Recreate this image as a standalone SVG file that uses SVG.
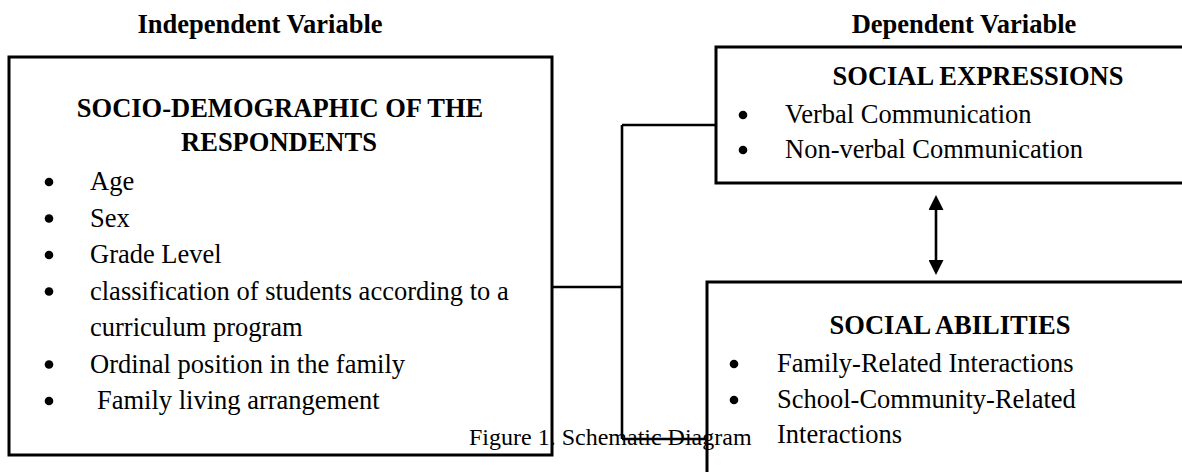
<svg xmlns="http://www.w3.org/2000/svg" width="1182" height="472" viewBox="0 0 1182 472">
  <style>
    text { font-family: "Liberation Serif", "Times New Roman", serif; fill: #000; }
    .h { font-size: 26.5px; font-weight: bold; text-anchor: middle; }
    .b { font-size: 26.5px; }
    .cap { font-size: 24px; }
    .dot { fill: #000; }
    .box { fill: #fff; stroke: #000; stroke-width: 3; }
    .con { fill: none; stroke: #000; stroke-width: 2.6; }
  </style>
  <defs>
    <marker id="ah" viewBox="0 0 15 15" markerUnits="userSpaceOnUse" markerWidth="15" markerHeight="15" refX="10" refY="7.5" orient="auto-start-reverse">
      <path d="M0,0 L15,7.5 L0,15 z" fill="#000"/>
    </marker>
  </defs>

  <rect width="1182" height="472" fill="#fff"/>

  <text class="h" x="260" y="33">Independent Variable</text>
  <text class="h" x="964" y="33">Dependent Variable</text>

  <g id="socio-demographic">
    <rect class="box" x="9" y="57" width="543" height="398"/>
    <text class="h" x="280" y="117">SOCIO-DEMOGRAPHIC OF THE</text>
    <text class="h" x="279" y="151">RESPONDENTS</text>
    <circle class="dot" cx="49" cy="182" r="4.3"/><text class="b" x="90" y="190">Age</text>
    <circle class="dot" cx="49" cy="218.5" r="4.3"/><text class="b" x="90" y="226.5">Sex</text>
    <circle class="dot" cx="49" cy="255" r="4.3"/><text class="b" x="90" y="263">Grade Level</text>
    <circle class="dot" cx="49" cy="291.5" r="4.3"/><text class="b" x="90" y="299.5">classification of students according to a</text>
    <text class="b" x="90" y="336">curriculum program</text>
    <circle class="dot" cx="49" cy="364.5" r="4.3"/><text class="b" x="90" y="372.5">Ordinal position in the family</text>
    <circle class="dot" cx="49" cy="401" r="4.3"/><text class="b" x="97" y="409">Family living arrangement</text>
  </g>

  <g id="social-expressions">
    <rect class="box" x="716" y="47" width="540" height="136"/>
    <text class="h" x="978" y="85">SOCIAL EXPRESSIONS</text>
    <circle class="dot" cx="743" cy="115" r="4.3"/><text class="b" x="785" y="123">Verbal Communication</text>
    <circle class="dot" cx="743" cy="150" r="4.3"/><text class="b" x="785" y="158">Non-verbal Communication</text>
  </g>

  <g id="social-abilities">
    <rect class="box" x="707" y="282" width="540" height="220"/>
    <text class="h" x="950" y="334">SOCIAL ABILITIES</text>
    <circle class="dot" cx="734" cy="364" r="4.3"/><text class="b" x="777" y="372">Family-Related Interactions</text>
    <circle class="dot" cx="734" cy="400" r="4.3"/><text class="b" x="777" y="408">School-Community-Related</text>
    <text class="b" x="777" y="443">Interactions</text>
  </g>

  <g id="caption">
    <text class="cap" x="469" y="445">Figure 1. Schematic Diagram</text>
  </g>

  <g id="connectors">
    <path class="con" d="M552,287 H622 M622,125 V439 M622,125 H716 M622,439 H707"/>
    <line class="con" x1="936" y1="200" x2="936" y2="270" marker-start="url(#ah)" marker-end="url(#ah)"/>
  </g>
</svg>
